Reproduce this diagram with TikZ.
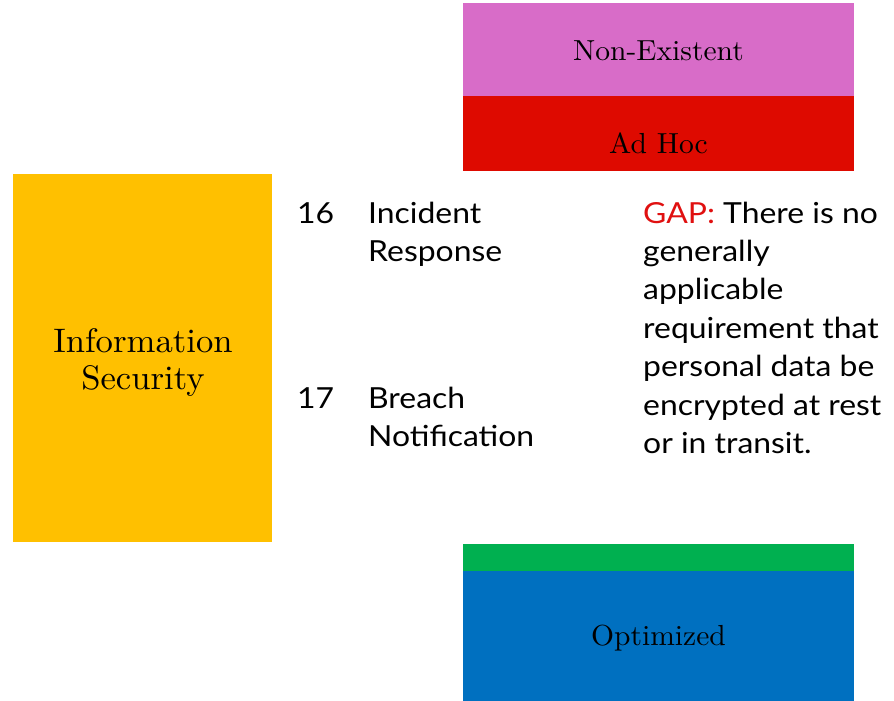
\documentclass[tikz,border=0pt]{standalone}
\usepackage{fontspec}
\setmainfont{lmroman10-regular}[Extension=.otf, FakeStretch=1.02]
\newfontfamily\lato{Lato}[FakeStretch=1.1]
\definecolor{cpink}{RGB}{216,108,200}
\definecolor{cred}{RGB}{222,10,0}
\definecolor{corange}{RGB}{255,192,0}
\definecolor{cgreen}{RGB}{0,176,80}
\definecolor{cblue}{RGB}{0,112,192}
\definecolor{gapred}{RGB}{224,16,16}
\tikzset{
  serif/.style={font=\fontsize{29}{37}\selectfont, inner sep=0pt, align=center, anchor=base},
  bigserif/.style={font=\fontsize{34}{37}\selectfont, inner sep=0pt, align=center, anchor=base},
  sans/.style={font=\lato\fontsize{29}{38.4}\selectfont, inner sep=0pt, align=left, anchor=base west}
}
\begin{document}
\begin{tikzpicture}[x=1pt,y=-1pt]
\useasboundingbox (0,0) rectangle (894,701);
% top stack
\fill[cpink] (463,3) rectangle (854,96);
\fill[cred] (463,96) rectangle (854,171);
\node[serif] (nonex) at (658.5,60) {Non-Existent};
\node[serif] (adhoc) at (658.5,153) {Ad Hoc};
% left box
\fill[corange] (13,174) rectangle (272,542);
\node[bigserif] (info) at (143,389) {Information\\Security};
% bottom stack
\fill[cgreen] (463,544) rectangle (854,571);
\fill[cblue] (463,571) rectangle (854,701);
\node[serif] (optim) at (658.5,645) {Optimized};
% middle text (base anchor = last line)
\node[sans] (n16) at (297,223) {16};
\node[sans] (t16) at (368,261.4) {Incident\\Response};
\node[sans] (n17) at (297,408.3) {17};
\node[sans] (t17) at (368,446.7) {Breach\\Notification};
\node[sans] (gap) at (643,453.4) {\textcolor{gapred}{GAP:} There is no\\generally\\applicable\\requirement that\\personal data be\\encrypted at rest\\or in transit.};
\end{tikzpicture}
\end{document}
